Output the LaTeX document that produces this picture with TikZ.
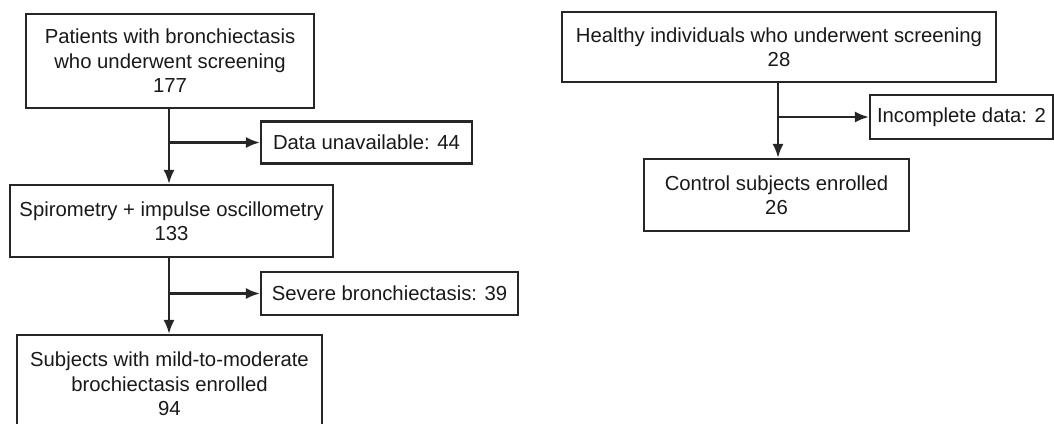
\documentclass[tikz,border=0pt]{standalone}
\usepackage{fontspec}
\setmainfont{Liberation Sans}
\usetikzlibrary{arrows.meta}
\begin{document}
\begin{tikzpicture}[x=1pt,y=-1pt,
  box/.style={draw=black!85, line width=2.2pt, text=black!90, align=center,
    font=\fontsize{20.3}{24.5}\selectfont, inner sep=0pt, rectangle},
  arr/.style={line width=2.2pt, draw=black!85, -{Latex[length=14pt,width=11pt]}}]
\useasboundingbox (0,0) rectangle (1054,423);
\node[box, minimum width=288pt, minimum height=94pt] (b1) at (170,61)
  {Patients with bronchiectasis\\who underwent screening\\177};
\node[box, minimum width=211pt, minimum height=42pt] (d1) at (366.5,142.5)
  {Data unavailable: 44};
\node[box, minimum width=323pt, minimum height=72pt] (b2) at (171.5,221)
  {Spirometry + impulse oscillometry\\133};
\node[box, minimum width=257pt, minimum height=43pt] (d2) at (389.5,293.5)
  {Severe bronchiectasis: 39};
\node[box, minimum width=305pt, minimum height=98pt] (b3) at (169.5,384)
  {Subjects with mild-to-moderate\\brochiectasis enrolled\\94};
\node[box, minimum width=434pt, minimum height=70pt] (h1) at (779,47)
  {Healthy individuals who underwent screening\\28};
\node[box, minimum width=183pt, minimum height=44pt] (i1) at (961.5,117)
  {Incomplete data: 2};
\node[box, minimum width=265pt, minimum height=72pt] (c1) at (776.5,195)
  {Control subjects enrolled\\26};
% left column
\coordinate (t1) at (169,108);
\draw[arr] (t1) -- (t1 |- b2.north);
\draw[arr] (t1 |- d1.west) -- (d1.west);
\coordinate (t2) at (169,257);
\draw[arr] (t2) -- (t2 |- b3.north);
\draw[arr] (t2 |- d2.west) -- (d2.west);
% right column
\coordinate (t3) at (778,82);
\draw[arr] (t3) -- (t3 |- c1.north);
\draw[arr] (t3 |- i1.west) -- (i1.west);
\end{tikzpicture}
\end{document}
